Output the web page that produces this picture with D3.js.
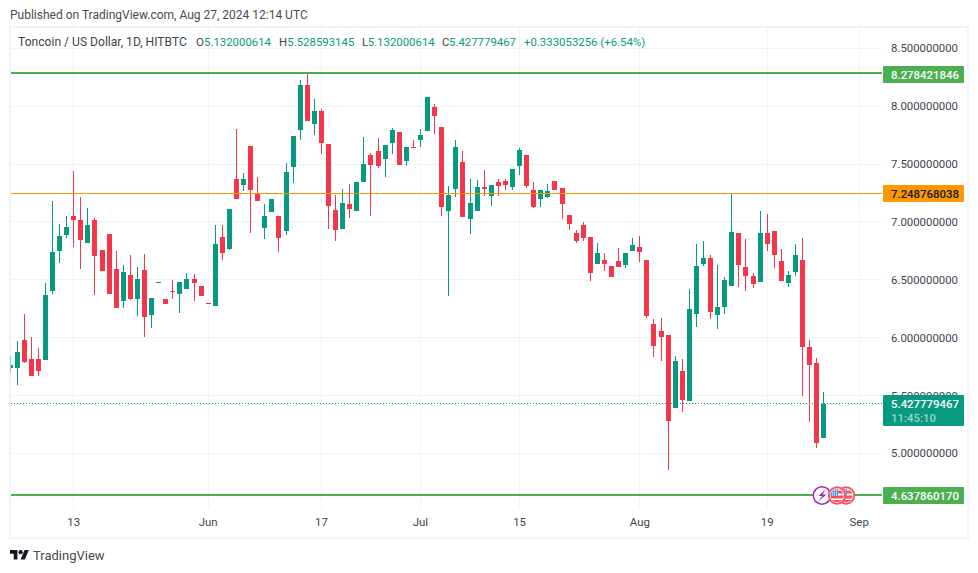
<!DOCTYPE html>
<html>
<head>
<meta charset="utf-8">
<script src="https://cdn.jsdelivr.net/npm/d3@7/dist/d3.min.js"></script>
<style>
html,body{margin:0;padding:0;background:#fff;overflow:hidden}
svg{display:block}
text{font-family:Roboto,sans-serif}
</style>
</head>
<body>
<script>
const firstDay = "2024-05-04";
const opens = [
5.738,5.738,5.98,5.815,5.815,5.807,6.403,6.749,6.887,7.051,
7.017,6.818,7.017,6.757,6.896,6.593,6.317,6.541,6.334,6.585,
6.196,6.472,6.334,6.403,6.377,6.42,6.507,6.446,6.299,6.273,
6.87,6.766,7.371,7.319,7.656,7.241,6.948,7.086,7.051,6.922,
7.475,7.795,8.184,7.846,7.959,7.674,7.103,6.939,7.155,7.095,
7.345,7.579,7.613,7.544,7.682,7.777,7.527,7.648,7.708,7.786,
7.993,7.821,7.095,7.285,7.518,7.025,7.095,7.302,7.224,7.345,
7.354,7.302,7.483,7.579,7.276,7.198,7.216,7.354,7.293,7.06,
6.904,6.974,6.87,6.636,6.671,6.619,6.662,6.628,6.749,6.783,
6.671,6.118,6.057,6.023,5.392,5.712,5.452,6.204,6.636,6.688,
6.196,6.265,6.446,6.904,6.61,6.533,6.481,6.904,6.922,6.662,
6.472,6.567,6.671,5.919,5.781,5.132000614];
const highs = [
5.841,5.971,6.204,6.005,5.91,6.472,7.181,6.982,7.051,7.44,
7.216,7.12,7.034,6.757,6.896,6.749,6.628,6.714,6.61,6.723,
6.343,6.481,6.334,6.498,6.481,6.559,6.55,6.446,6.299,6.974,
6.974,7.112,7.803,7.423,7.656,7.388,7.155,7.198,7.051,7.509,
7.743,8.227,8.278,8.063,7.976,7.674,7.233,7.285,7.328,7.345,
7.734,7.596,7.725,7.665,7.812,7.777,7.648,7.708,7.803,8.08,
8.019,7.821,7.311,7.708,7.613,7.371,7.362,7.449,7.319,7.371,
7.371,7.458,7.639,7.579,7.345,7.276,7.328,7.354,7.293,7.06,
6.93,6.999,6.87,6.818,6.731,6.619,6.775,6.731,6.861,6.878,
6.671,6.161,6.17,6.023,5.841,5.815,6.42,6.809,6.835,6.714,
6.628,6.524,7.25,6.904,6.853,6.559,7.095,7.069,6.922,6.766,
6.576,6.809,6.861,5.98,5.824,5.528593145];
const lows = [
5.694,5.591,5.781,5.668,5.668,5.807,6.377,6.645,6.861,6.783,
6.593,6.818,6.368,6.576,6.377,6.256,6.256,6.325,6.187,6.005,
6.083,6.472,6.291,6.334,6.213,6.42,6.317,6.36,6.291,6.273,
6.671,6.757,7.198,7.267,6.904,7.181,6.852,7.086,6.74,6.887,
7.336,7.708,7.872,7.751,7.587,6.939,6.835,6.939,7.034,7.095,
7.345,7.051,7.466,7.388,7.587,7.492,7.483,7.639,7.648,7.786,
7.76,7.051,6.36,7.216,7.043,6.896,7.095,7.224,7.138,7.224,
7.276,7.276,7.406,7.293,7.12,7.129,7.207,7.276,7.025,6.93,
6.818,6.835,6.489,6.636,6.576,6.524,6.61,6.602,6.749,6.654,
6.17,5.833,5.798,4.856,5.392,5.357,5.452,6.092,6.619,6.161,
6.075,6.204,6.446,6.438,6.403,6.429,6.481,6.749,6.602,6.489,
6.438,6.533,5.496,5.271,5.046,5.132000614];
const closes = [
5.763,5.876,5.789,5.668,5.712,6.368,6.74,6.878,6.956,7.017,
6.844,6.974,6.706,6.576,6.377,6.256,6.567,6.334,6.507,6.178,
6.343,6.481,6.291,6.394,6.481,6.507,6.472,6.36,6.291,6.809,
6.731,7.112,7.198,7.371,7.276,7.181,7.051,7.198,6.861,7.432,
7.743,8.184,7.872,7.959,7.682,7.138,6.93,7.164,7.112,7.345,
7.501,7.492,7.483,7.665,7.795,7.492,7.648,7.639,7.751,8.08,
7.916,7.129,7.233,7.648,7.043,7.164,7.302,7.285,7.319,7.311,
7.319,7.458,7.622,7.311,7.129,7.276,7.267,7.276,7.155,6.982,
6.835,6.861,6.559,6.731,6.636,6.524,6.61,6.731,6.801,6.74,
6.187,5.928,6.005,5.279,5.798,5.461,6.247,6.619,6.688,6.222,
6.265,6.498,6.913,6.628,6.533,6.464,6.904,6.809,6.714,6.489,
6.541,6.714,5.919,5.763,5.089,5.427779467];

const priceTicks = [5, 5.5, 6, 6.5, 7, 7.5, 8, 8.5];
const timeTickDates = ["2024-05-13","2024-06-01","2024-06-17","2024-07-01","2024-07-15","2024-08-01","2024-08-19","2024-09-01"];
const timeTickLabels = ["13","Jun","17","Jul","15","Aug","19","Sep"];
const levelHigh = 8.278421846;
const levelMid = 7.248768038;
const levelLow = 4.637860170;
const lastPrice = 5.427779467;
const countdown = "11:45:10";
const publishedText = "Published on TradingView.com, Aug 27, 2024 12:14 UTC";
const titleText = "Toncoin / US Dollar, 1D, HITBTC";
const legendParts = [["O","5.132000614",196,204],["H","5.528593145",279,287.3],["L","5.132000614",362,367.7],["C","5.427779467",442,449]];
const legendChange = "+0.333053256 (+6.54%)";

const UP = "#089981", DOWN = "#f5364a", GRID = "#f2f3f6", FRAME = "#f0f3fa", TXT = "#131722", SOFT = "#3f434c";
const W = 978, H = 573;
const parse = d3.utcParse("%Y-%m-%d");
const dates = opens.map((_, i) => d3.utcDay.offset(parse(firstDay), i));

const x = d3.scaleUtc().domain([parse("2024-06-01"), parse("2024-09-01")]).range([208.2, 859.2]);
const y = d3.scaleLinear().domain([5, 8.5]).range([453.3, 48.3]);
const px = d => Math.floor(x(d));
const py = v => Math.round(y(v));

const svg = d3.select("body").append("svg").attr("width", W).attr("height", H);
svg.append("rect").attr("width", W).attr("height", H).attr("fill", "#fff");

// frame
svg.append("rect").attr("x",10).attr("y",27).attr("width",958).attr("height",511)
  .attr("fill","none").attr("stroke",FRAME).attr("stroke-width",2);

const defs = svg.append("defs");
defs.append("clipPath").attr("id","plot").append("rect").attr("x",10).attr("y",28).attr("width",872).attr("height",481);

// grid
svg.append("g").selectAll("rect").data(priceTicks).join("rect")
  .attr("x",11).attr("width",871).attr("y",d=>Math.floor(y(d))).attr("height",1).attr("fill",GRID);
svg.append("g").selectAll("rect").data(timeTickDates).join("rect")
  .attr("x",d=>px(parse(d))).attr("width",1).attr("y",28).attr("height",481).attr("fill",GRID);

// candles
const plot = svg.append("g").attr("clip-path","url(#plot)");
const idx = d3.range(opens.length);
const colour = i => closes[i] >= opens[i] ? UP : DOWN;
plot.append("g").selectAll("rect").data(idx).join("rect")
  .attr("x",i=>px(dates[i])).attr("width",1)
  .attr("y",i=>py(highs[i])).attr("height",i=>Math.max(1,py(lows[i])-py(highs[i])))
  .attr("fill",colour);
plot.append("g").selectAll("rect").data(idx).join("rect")
  .attr("x",i=>px(dates[i])-2).attr("width",5)
  .attr("y",i=>py(Math.max(opens[i],closes[i])))
  .attr("height",i=>Math.max(1,py(Math.min(opens[i],closes[i]))-py(Math.max(opens[i],closes[i]))))
  .attr("fill",colour);
svg.append("rect").attr("x",10).attr("y",28).attr("width",1).attr("height",481).attr("fill",FRAME).attr("opacity",0.6);

// level lines
svg.append("rect").attr("x",11).attr("width",871).attr("y",Math.floor(y(levelHigh))-1).attr("height",2).attr("fill","#4caf50");
svg.append("rect").attr("x",11).attr("width",871).attr("y",Math.floor(y(levelLow))-1).attr("height",2).attr("fill","#4caf50");
svg.append("rect").attr("x",11).attr("width",871).attr("y",Math.floor(y(levelMid))).attr("height",1).attr("fill","#ff9800");
svg.append("line").attr("x1",11).attr("x2",882).attr("y1",Math.floor(y(lastPrice))+0.5).attr("y2",Math.floor(y(lastPrice))+0.5)
  .attr("stroke",UP).attr("stroke-width",1).attr("stroke-dasharray","1 2");

// axes
const FS = 11.4;
const yAxis = d3.axisRight(y).tickValues(priceTicks).tickFormat(d=>d.toFixed(9)).tickSize(0).tickPadding(0);
const gy = svg.append("g").attr("transform","translate(891,0)").call(yAxis);
gy.select(".domain").remove();
gy.selectAll("text").attr("font-size",FS).attr("fill",SOFT).attr("font-family","Roboto,sans-serif");

const xAxis = d3.axisBottom(x).tickValues(timeTickDates.map(parse)).tickFormat((d,i)=>timeTickLabels[i]).tickSize(0).tickPadding(9);
const gx = svg.append("g").attr("transform","translate(-0.5,509)").call(xAxis);
gx.select(".domain").remove();
gx.selectAll("text").attr("font-size",FS).attr("fill",SOFT).attr("font-family","Roboto,sans-serif");

// price tags
function tag(v, h, bg){
  const c = y(v);
  const t = Math.round(c - h/2 + 0.2);
  svg.append("rect").attr("x",883).attr("y",t).attr("width",81).attr("height",h).attr("rx",1).attr("fill",bg);
  return t;
}
function tagText(s, yy, fg, op){
  svg.append("text").attr("x",891).attr("y",yy).attr("font-size",FS).attr("fill",fg)
    .attr("fill-opacity",op==null?1:op).attr("dominant-baseline","central").attr("font-weight",500).text(s);
}
let t;
t = tag(levelHigh,17,"#4caf50"); tagText(levelHigh.toFixed(9),t+8.5,"#fff");
t = tag(levelMid,17,"#ff9800"); tagText(levelMid.toFixed(9),t+8.5,TXT);
t = tag(levelLow,17,"#4caf50"); tagText(levelLow.toFixed(9),t+8.5,"#fff");
svg.append("rect").attr("x",883).attr("y",Math.floor(y(lastPrice))-8).attr("width",81).attr("height",31).attr("rx",1).attr("fill",UP);
tagText(lastPrice.toFixed(9),Math.floor(y(lastPrice))+0.5,"#fff");
tagText(countdown,Math.floor(y(lastPrice))+14.5,"#fff",0.6);

// header, legend
const label = (s,xx,yy,fs,fill) => svg.append("text").attr("x",xx).attr("y",yy).attr("font-size",fs)
  .attr("fill",fill).attr("dominant-baseline","central").text(s);
label(publishedText,10,15,12,"#4a4a4a");
label(titleText,18,42,12.1,SOFT);
legendParts.forEach(([k,v,xx,vx])=>{ label(k,xx,42,FS,SOFT); label(v,vx,42,FS,UP); });
label(legendChange,524,42,FS,UP);

// event icons on the lower level line
const iconY = Math.floor(y(levelLow))+0.5;
const ic = svg.append("g");
ic.append("circle").attr("cx",822).attr("cy",iconY).attr("r",8.7).attr("fill","#fff").attr("stroke","#9c27b0").attr("stroke-width",1.5);
ic.append("path").attr("d",`M826 ${iconY-6.5}L818.5 ${iconY+0.5}L822.5 ${iconY+0.5}L817.5 ${iconY+6.5}L826.5 ${iconY-1}L822.5 ${iconY-1}Z`).attr("fill","#9c27b0");
[846,837].forEach((cx,i)=>{
  const id = "flag"+i;
  defs.append("clipPath").attr("id",id).append("circle").attr("cx",cx).attr("cy",iconY).attr("r",6.6);
  const g = ic.append("g");
  g.append("circle").attr("cx",cx).attr("cy",iconY).attr("r",8.2).attr("fill","#fff").attr("stroke","#f7525f").attr("stroke-width",1.9);
  const f = g.append("g").attr("clip-path",`url(#${id})`);
  f.append("rect").attr("x",cx-8).attr("y",iconY-8).attr("width",16).attr("height",16).attr("fill","#fff");
  [-5,0,4.5].forEach(dy=>f.append("rect").attr("x",cx-8).attr("y",iconY+dy).attr("width",16).attr("height",3).attr("fill","#f7525f"));
  f.append("rect").attr("x",cx-8).attr("y",iconY-8).attr("width",9).attr("height",8.5).attr("fill","#3d85d8");
  [-5.5,-3,-0.8].forEach(dy=>f.append("rect").attr("x",cx-8).attr("y",iconY+dy).attr("width",9).attr("height",0.6).attr("fill","#cfe2f7"));
  [-5,-3,-1].forEach(dx=>f.append("rect").attr("x",cx+dx).attr("y",iconY-8).attr("width",0.6).attr("height",8.5).attr("fill","#cfe2f7"));
});

// logo
const logo = svg.append("g").attr("transform","translate(10,547.9) scale(0.53)").attr("fill",TXT);
logo.append("path").attr("d","M14 22H7V11H0V4h14v18zM28 22h-8l7.5-18h8L28 22z");
logo.append("circle").attr("cx",20).attr("cy",8).attr("r",4);
label("TradingView",33,555,13,"#4a4a4a");
</script>
</body>
</html>
